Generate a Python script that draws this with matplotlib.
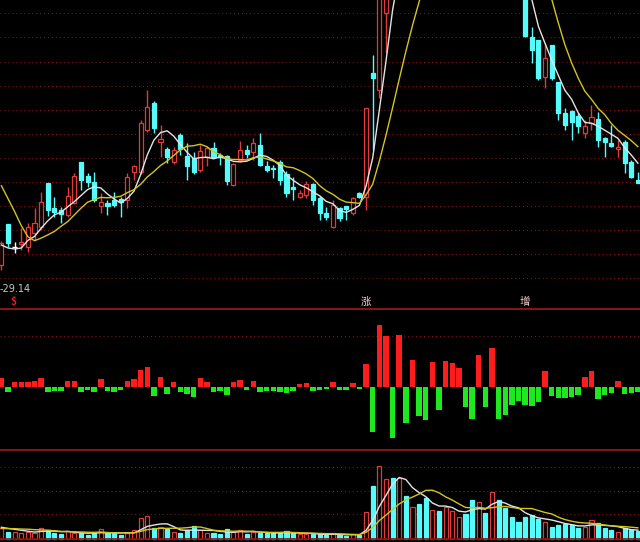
import numpy as np
import pandas as pd
import matplotlib
matplotlib.use('Agg')
import matplotlib.pyplot as plt
from matplotlib.patches import Rectangle
from matplotlib.lines import Line2D
from matplotlib.transforms import blended_transform_factory

# closes of the 9 sessions before the first visible candle (needed for MA10)
pre_close = [48.7, 48.3, 49.8, 48.3, 41.7, 37.2, 35.8, 35.3, 33.5]

opens = [33.5, 37.6, 35.3, 35.6, 35.3, 36.7, 37.3, 41.7, 39.2, 39.0,
         38.5, 39.7, 43.8, 42.4, 41.8, 39.4, 39.7, 40.0, 40.1, 40.0,
         42.8, 42.8, 47.0, 49.7, 45.8, 45.1, 43.8, 46.5, 44.4, 44.2,
         43.0, 44.3, 45.2, 44.5, 44.4, 41.5, 44.0, 45.0, 44.8, 45.5,
         43.4, 43.2, 43.8, 42.6, 41.3, 40.3, 40.5, 41.6, 40.2, 38.7,
         37.3, 39.2, 39.4, 38.7, 40.7, 40.3, 52.7, 51.0, 58.7, 67.5,
         65.5, 67.5, 63.5, 65.5, 64.5, 63.5, 66.5, 65.2, 67.8, 69.2,
         71.5, 70.2, 68.8, 71.0, 69.8, 72.0, 69.0, 66.0, 63.0, 60.8,
         56.3, 56.0, 52.3, 55.5, 51.8, 48.7, 48.9, 48.4, 46.7, 47.7,
         48.1, 46.2, 45.7, 45.1, 45.8, 43.8, 42.0]
highs = [35.9, 37.6, 35.8, 37.2, 37.7, 39.2, 40.8, 41.7, 40.3, 39.3,
         41.3, 42.7, 43.8, 42.7, 42.8, 40.7, 40.0, 40.8, 40.3, 42.7,
         43.5, 48.0, 51.0, 49.9, 47.5, 45.3, 45.3, 46.7, 45.7, 44.8,
         45.5, 45.4, 45.8, 44.7, 44.5, 43.7, 45.9, 45.5, 46.2, 46.7,
         43.9, 43.5, 44.0, 42.9, 42.3, 41.0, 41.9, 41.7, 40.4, 39.3,
         40.0, 39.3, 39.4, 40.3, 40.8, 49.2, 54.5, 64.5, 66.0, 68.5,
         69.2, 68.5, 66.2, 66.2, 65.0, 66.6, 67.2, 68.2, 70.5, 72.0,
         72.5, 71.0, 71.2, 71.8, 74.0, 72.8, 69.5, 66.6, 63.5, 61.2,
         57.3, 56.0, 55.7, 55.5, 51.8, 49.2, 49.0, 48.7, 48.0, 49.5,
         48.8, 46.3, 47.5, 46.0, 46.0, 44.0, 42.8]
lows = [33.0, 35.3, 34.7, 35.0, 34.8, 36.0, 37.0, 38.4, 38.3, 37.7,
        38.3, 39.6, 41.0, 41.3, 39.8, 38.7, 38.5, 39.3, 38.3, 39.2,
        42.0, 42.6, 46.8, 46.7, 44.3, 43.7, 43.6, 44.5, 42.0, 42.6,
        42.8, 43.4, 44.2, 43.5, 41.5, 41.4, 43.8, 44.2, 44.0, 43.4,
        42.8, 42.2, 41.5, 40.3, 40.0, 40.2, 40.2, 39.5, 38.0, 38.0,
        37.2, 37.9, 38.0, 38.5, 40.2, 39.0, 45.0, 50.2, 54.7, 65.2,
        65.0, 65.0, 62.5, 63.0, 61.8, 62.8, 64.4, 64.6, 67.0, 68.5,
        69.2, 67.8, 68.0, 68.8, 69.0, 68.5, 65.0, 62.2, 60.3, 56.3,
        53.7, 52.0, 51.2, 52.0, 48.0, 47.0, 46.0, 46.7, 46.2, 47.0,
        45.3, 44.3, 45.3, 44.3, 42.7, 42.2, 41.7]
closes = [35.7, 35.7, 35.3, 35.8, 37.3, 37.7, 39.8, 39.0, 38.8, 38.6,
          40.4, 42.4, 42.0, 41.8, 40.0, 39.8, 39.4, 39.5, 39.8, 42.3,
          43.4, 47.7, 49.3, 47.2, 46.1, 44.3, 45.0, 45.1, 43.4, 42.8,
          44.9, 45.2, 44.3, 44.3, 41.9, 43.6, 45.0, 44.6, 45.7, 43.5,
          43.0, 43.1, 42.0, 40.7, 41.1, 40.7, 41.6, 40.0, 38.7, 38.3,
          39.5, 38.2, 39.1, 40.2, 40.3, 49.2, 52.2, 63.0, 64.5, 66.0,
          68.0, 66.0, 65.0, 64.0, 63.0, 66.0, 65.0, 67.5, 69.5, 71.0,
          70.0, 68.5, 70.5, 69.5, 72.5, 69.5, 65.7, 62.7, 60.5, 56.4,
          55.0, 52.2, 54.2, 52.2, 48.7, 47.5, 47.8, 47.4, 47.4, 48.3,
          46.0, 45.8, 45.4, 45.3, 43.7, 42.3, 41.7]

pre_vol = [9, 8, 10, 9, 11, 13, 12, 11, 12]
volume = [10.7, 7.3, 7.3, 6.3, 7.3, 6.3, 10.7, 9.0, 5.7, 5.0,
          8.0, 6.3, 5.7, 4.0, 5.7, 9.7, 5.7, 5.7, 4.0, 6.3,
          9.0, 20.7, 23.0, 10.7, 11.7, 9.7, 6.7, 6.3, 9.0, 13.0,
          9.0, 5.7, 5.7, 5.0, 9.7, 7.3, 9.0, 4.7, 7.3, 6.3,
          5.7, 5.7, 5.7, 8.0, 5.7, 4.7, 4.7, 4.7, 4.7, 4.0,
          5.7, 4.0, 3.0, 4.7, 4.0, 27.3, 53.3, 73.0, 60.0, 60.7,
          60.7, 43.3, 32.3, 35.0, 40.7, 29.0, 28.0, 31.7, 28.3, 22.3,
          25.0, 39.0, 37.3, 25.7, 46.7, 39.0, 30.7, 22.3, 17.3, 22.3,
          24.0, 19.7, 17.3, 11.7, 14.0, 15.0, 14.0, 10.7, 11.7, 19.0,
          15.7, 10.7, 9.0, 7.3, 10.7, 9.0, 8.3]

# middle panel: signed bars
flow = [8.3, -5.7, 5.0, 5.0, 5.0, 5.7, 8.3, -5.7, -4.0, -4.0,
        5.7, 5.7, -5.7, -3.3, -5.0, 7.7, -4.0, -5.0, -3.3, 5.7,
        7.7, 16.7, 19.3, -9.0, 10.0, -7.3, 5.0, -5.0, -7.3, -10.7,
        8.3, 5.0, -5.0, -4.0, -8.3, 5.0, 6.7, -3.3, 6.0, -5.7,
        -4.0, -4.0, -5.0, -6.7, -4.0, 2.7, 3.3, -4.0, -3.0, -2.3,
        5.0, -3.3, -3.3, 3.3, -2.3, 22.7, -45.0, 61.7, 50.7, -51.0,
        51.3, -36.0, 27.0, -29.0, -33.3, 24.7, -23.3, 26.0, 23.7, 18.7,
        -20.7, -32.3, 32.0, -20.7, 38.7, -32.3, -28.3, -18.3, -14.0, -18.3,
        -19.0, -15.0, 15.3, -9.3, -11.3, -11.3, -10.7, -8.3, 9.3, 16.0,
        -12.3, -8.3, -6.3, 6.0, -7.3, -6.7, -5.7]

signal_idx = [2, 55, 79]
signal_text = ['$', '涨', '增']
low_label = '-29.14'

plt.rcParams['font.family'] = ['Noto Sans CJK SC', 'DejaVu Sans']

RED = '#e03a3a'
CYAN = '#54fcfc'
GRID = '#8c1414'
SEP = '#a01a1a'
DOTS = (0, (1, 2.8))

n = len(closes)
x = np.arange(n)
o = np.array(opens)
c = np.array(closes)

px = pd.Series(pre_close + closes)
ma5 = px.rolling(5).mean().to_numpy()[len(pre_close):]
ma10 = px.rolling(10).mean().to_numpy()[len(pre_close):]
vs = pd.Series(pre_vol + volume)
vma5 = vs.rolling(5).mean().to_numpy()[len(pre_vol):]
vma10 = vs.rolling(10).mean().to_numpy()[len(pre_vol):]

W, H = 640, 542
fig = plt.figure(figsize=(6.4, 5.42), dpi=100, facecolor='black')
ax1 = fig.add_axes([0, 1 - 309 / H, 1, 309 / H])
ax2 = fig.add_axes([0, 1 - 450 / H, 1, 141 / H])
ax3 = fig.add_axes([0, 0, 1, 92 / H])
for ax in (ax1, ax2, ax3):
    ax.set_facecolor('black')
    ax.set_xlim(-0.21, 96.32)
    ax.set_xticks([])
    ax.set_yticks([])
    for s in ax.spines.values():
        s.set_visible(False)

# price panel
ax1.set_ylim(29.1, 60.0)
for lv in np.arange(32.16, 60, 2.41):
    ax1.axhline(lv, color=GRID, lw=0.75, ls=DOTS, zorder=0)

bw = 0.62
for i in range(n):
    if c[i] > o[i]:
        col, face = RED, 'black'
    elif c[i] < o[i]:
        col, face = CYAN, CYAN
    else:
        col, face = 'white', 'white'
    ax1.vlines(i, lows[i], highs[i], color=col, lw=1, zorder=2)
    bot = min(o[i], c[i])
    ht = max(abs(c[i] - o[i]), 0.05)
    if c[i] == o[i]:
        ax1.hlines(c[i], i - bw / 2 - 0.1, i + bw / 2 + 0.1, color=col, lw=1, zorder=3)
    else:
        ax1.add_patch(Rectangle((i - bw / 2, bot), bw, ht, facecolor=face,
                                edgecolor=col, lw=0.9, zorder=3))

ax1.plot(x, ma5, color='#e4e4e4', lw=1, zorder=4)
ax1.plot(x, ma10, color='#d4c41e', lw=1, zorder=4)

trans = blended_transform_factory(ax1.transData, ax1.transAxes)
for idx, t in zip(signal_idx, signal_text):
    if t == '$':
        ax1.text(idx - 0.2, 0.024, t, transform=trans, ha='center', va='center',
                 fontsize=7.5, color='#e82020', fontweight='bold')
    else:
        ax1.text(idx, 0.024, t, transform=trans, ha='center', va='center',
                 fontsize=7.5, color='#f8d0d0')

fig.text(0.0, 1 - 289 / H, low_label, color='#c8c8c8', fontsize=7,
         ha='left', va='center', family='DejaVu Sans')

# middle panel
ax2.set_ylim(-63.3, 77.7)
ax2.axhline(50.4, color=GRID, lw=0.75, ls=DOTS, zorder=0)
fl = np.array(flow)
ax2.bar(x, fl, width=0.82, color=np.where(fl > 0, '#ff1c1c', '#1ee81e'), zorder=2)

# volume panel
ax3.set_ylim(-3, 89)
for lv in (24.7, 48.2, 71.7):
    ax3.axhline(lv, color=GRID, lw=0.75, ls=DOTS, zorder=0)
up = c >= o
ax3.bar(x, volume, width=0.62, facecolor=np.where(up, 'black', CYAN),
        edgecolor=np.where(up, RED, CYAN), lw=0.9, zorder=2)
ax3.axhline(0, color='#8a1010', lw=1.2, zorder=3)
ax3.plot(x, vma5, color='#e4e4e4', lw=1, zorder=4)
ax3.plot(x, vma10, color='#d4c41e', lw=1, zorder=4)

# panel separators
for yp in (309, 450):
    fig.add_artist(Line2D([0, 1], [1 - yp / H] * 2, transform=fig.transFigure,
                          color=SEP, lw=1.2))

fig.savefig('out.png', dpi=100, facecolor='black')
